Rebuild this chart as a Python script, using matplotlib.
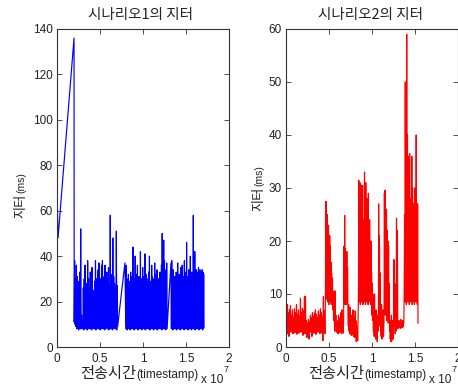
import numpy as np
import matplotlib
matplotlib.use('Agg')
import matplotlib.pyplot as plt

# ---------------- data (time in units of 1e7, jitter in ms) ----------------
titles = ['시나리오1의 지터', '시나리오2의 지터']
xticks = [0, 0.5, 1, 1.5, 2]
xtick_labels = ['0', '0.5', '1', '1.5', '2']
yticks1 = [0, 20, 40, 60, 80, 100, 120, 140]
yticks2 = [0, 10, 20, 30, 40, 50, 60]

# scenario 1 (blue)
blue_start = [25, 62]
blue_rise = [48, 136]
blue_band1 = [11,38, 10,30, 9,36, 8,31, 8.5,24, 7.5,29, 8,33, 8,52, 9,14, 8,12, 8,26, 7.5,30, 8,36,
              8.5,28, 8,24, 7.5,38, 8,30, 9,26, 8,33, 8,31, 7.5,35, 8,25, 8.5,24, 8,29, 8,38, 7.5,30,
              8,28, 9,34, 8,37, 8,26, 7.5,30, 8,36, 8.5,38, 8,27, 8,31, 7.5,36, 8,28, 9,33, 8,30,
              8,35, 7.5,27, 8,58, 8.5,30, 8,32, 7.5,48, 8,31, 9,28, 8,26, 8,51, 7.5,27, 9]
blue_link1 = [37]
blue_band2 = [8,36, 8,30, 7.5,27, 8,32, 8.5,25, 8,29, 7.5,33, 8,28, 8,31, 8.5,44, 8,30, 7.5,27, 8,40,
              8,29, 9,32, 8,36, 7.5,26, 8,31, 8,28, 8.5,42, 8,30, 7.5,27, 8,35, 8,29, 8.5,31, 8,41,
              7.5,28, 8,32, 8,26, 9,30, 8,33, 8,40, 7.5,29, 8,27, 8.5,36, 8,31, 8,25, 7.5,30, 8,37,
              8,28, 8.5,32, 8,34, 7.5,27, 8,30, 8,29, 9,33, 8,31, 8,36, 7.5,50, 8,30, 8.5,47, 8,38,
              8,32, 7.5,34, 8,37, 8]
blue_link2 = [37]
blue_band3 = [8,38, 8,30, 7.5,34, 8,27, 8.5,31, 8,25, 8,33, 7.5,29, 8,37, 8,28, 8.5,32, 8,26, 7.5,35,
              8,30, 8,36, 8.5,27, 8,31, 7.5,38, 8,29, 8,33, 8.5,46, 8,28, 7.5,31, 8,34, 8,27, 8,40,
              8.5,30, 7.5,33, 8,29, 8,58, 8.5,35, 8,42, 7.5,33, 8,34, 8,31, 8.5,33, 8,35, 7.5,32,
              8,34, 8,33, 8.5,31, 8,34, 7.5,33, 8,32, 8.5]
blue_times = [(0.004, 0.004), (0.012, 0.198), (0.2, 0.705), (0.79, 0.79), (0.80, 1.28),
              (1.325, 1.325), (1.33, 1.71)]

# scenario 2 (red)
red_seg1 = [3,7.5, 2.5,8, 4,6.5, 2,7, 3.5,7.8, 2.8,6, 3,7, 2.5,5.5, 3.2,7.2, 2.7,6.5, 3,8, 2.4,6.2,
            3.5,7, 2.6,5.8, 3,9.2, 2.8,6.5, 3.3,7.3, 2.2,6.8, 3,9.5, 2.5,9.6, 3,5, 1.8,4.5, 2.5,5.2,
            1.5,4.8, 2.8,6, 3.2,5.5, 2,6.5, 3.5,5.8, 2.6,6.4, 3,7, 2.4,6.2, 3.4,5.6, 2.8,6.8, 3,6,
            2.5,7.2, 3.3,6.5, 2.7,5.8, 1.2,9.5, 3,6.8, 2.5,8.5]
red_seg2 = [27.5, 10, 24, 9, 25, 8.5, 22, 9, 23, 8, 20, 9.5, 21, 8.5, 19, 9, 16, 8, 14]
red_seg3 = [10, 13, 7, 10.5, 5, 8, 3, 10.6, 4, 6, 2.8, 5, 3.2, 4.5, 2.5, 6, 3, 5.5, 2.7, 4, 3.5,
            6.5, 2.5, 7, 3, 4.8, 2.6]
red_seg4 = [5, 19, 8.5, 24.8, 8, 18.5, 9, 17, 8, 18, 8.5, 15, 7]
red_seg5 = [4, 8, 3, 6.5, 2.5, 7.5, 3, 5, 2.2, 6, 3.5, 4.8, 2.4, 7, 2, 5.5, 3, 4.5, 1.8, 6.8, 2.5,
            5, 1, 4, 2, 3.5, 1.2, 5]
red_seg6 = [9,31.5, 8.5,24, 9,31, 8,22, 9.5,30.5, 8.5,26, 9,30.5, 8,21, 9,24, 8.5,33, 9,25, 8,31,
            9.5,22, 8.5,28, 9,20, 8,29, 9,21, 8.5,24, 9,19, 8,20, 9,14, 6,12, 5, 10]
red_seg7 = [8, 3, 6.5, 2, 10, 2.5, 5, 1.5, 7, 2, 4.5, 1, 6, 3]
red_seg8 = [3, 27, 5, 21, 6, 19, 4, 14, 5, 10, 3]
red_seg9 = [6, 2, 8, 1.5, 5, 2.5, 7, 2, 4.5]
red_seg10 = [5, 29, 7, 29.6, 6, 21, 7, 26, 5, 22, 6, 20, 4.5, 19, 5, 12, 3]
red_seg11 = [5, 1.5, 4, 1, 6, 1.2, 3.5, 2, 5, 1.5]
red_seg12 = [3, 16.5, 4, 12, 2.5, 9, 3, 24.3, 4, 22, 3.5]
red_seg13 = [4.5, 3.6, 5, 3.8, 4.6, 3.5, 5.2, 3.7, 4.8, 3.6, 5, 3.8, 4.5]
red_seg14 = [4.5, 10, 25, 8.5, 50, 9, 41, 8, 59, 9, 40, 8.5, 36, 9, 30, 8, 36.5, 9, 28, 8.5, 25, 9,
             36, 8, 30, 8.5, 27, 9, 24, 8, 30, 9, 26, 8.5, 40, 9, 27, 8, 27, 4.5]
red_times = [(0.0, 0.458), (0.465, 0.53), (0.535, 0.665), (0.67, 0.72), (0.725, 0.838),
             (0.842, 1.01), (1.012, 1.07), (1.075, 1.10), (1.102, 1.138), (1.14, 1.205),
             (1.208, 1.248), (1.25, 1.30), (1.302, 1.368), (1.37, 1.535)]


def build(times, pieces):
    ts, vs = [], []
    for (t0, t1), vals in zip(times, pieces):
        ts.extend(np.linspace(t0, t1, len(vals)))
        vs.extend(vals)
    return np.array(ts), np.array(vs)


blue_t, blue_v = build(blue_times, [blue_start, blue_rise, blue_band1, blue_link1,
                                    blue_band2, blue_link2, blue_band3])
red_t, red_v = build(red_times, [red_seg1, red_seg2, red_seg3, red_seg4, red_seg5, red_seg6,
                                 red_seg7, red_seg8, red_seg9, red_seg10, red_seg11, red_seg12,
                                 red_seg13, red_seg14])

# ---------------- figure ----------------
W, H = 458, 385
fig = plt.figure(figsize=(W / 100, H / 100), dpi=100)
fig.patch.set_facecolor('white')
KR = ['Noto Sans CJK KR', 'DejaVu Sans']
LAT = ['Liberation Sans', 'DejaVu Sans']
TXT = '#222222'

ax1 = fig.add_axes([57 / W, 38 / H, 172 / W, 318 / H])
ax2 = fig.add_axes([286 / W, 38 / H, 172 / W, 318 / H])

ax1.plot(blue_t, blue_v, color='#0000ff', lw=0.85)
ax2.plot(red_t, red_v, color='#ff0000', lw=0.85)

for ax, yt, ymax in [(ax1, yticks1, 140), (ax2, yticks2, 60)]:
    ax.set_xlim(0, 2)
    ax.set_ylim(0, ymax)
    ax.set_xticks(xticks)
    ax.set_xticklabels(xtick_labels)
    ax.set_yticks(yt)
    ax.tick_params(direction='in', length=3.5, width=0.6, top=True, right=True,
                   labelsize=8.5, colors='#333333', labelcolor=TXT)
    ax.tick_params(axis='x', pad=4)
    ax.tick_params(axis='y', pad=3)
    for lab in ax.get_xticklabels() + ax.get_yticklabels():
        lab.set_family(LAT)
    for s in ax.spines.values():
        s.set_color('#333333')
        s.set_linewidth(0.8)

fig.canvas.draw()
r = fig.canvas.get_renderer()


def hlabel(cx, base_px, parts):
    texts = [fig.text(0, 1 - base_px / H, s, fontsize=sz, family=fam, va='baseline',
                      ha='left', color=TXT) for s, sz, fam in parts]
    widths = [t.get_window_extent(r).width for t in texts]
    x = cx - sum(widths) / 2
    for t, w in zip(texts, widths):
        t.set_x(x / W)
        x += w


def vlabel(base_x, cy, parts):
    texts = [fig.text(base_x / W, 0, s, fontsize=sz, family=fam, rotation=90,
                      rotation_mode='anchor', ha='left', va='baseline', color=TXT)
             for s, sz, fam in parts]
    heights = [t.get_window_extent(r).height for t in texts]
    y = (H - cy) - sum(heights) / 2
    for t, h in zip(texts, heights):
        t.set_y(y / H)
        y += h


for cx, title in [(141, titles[0]), (370, titles[1])]:
    fig.text(cx / W, 1 - 15 / H, title, fontsize=10.5, family=KR, ha='center', va='center',
             color=TXT)

for cx in [139, 367]:
    hlabel(cx, 378, [('전송시간', 11, KR), ('(timestamp)', 8.5, LAT)])

for x0 in [201, 429]:
    fig.text(x0 / W, 1 - 383 / H, 'x 10', fontsize=8.5, family=LAT, ha='left',
             va='baseline', color=TXT)
    fig.text((x0 + 23) / W, 1 - 372 / H, '7', fontsize=6.5, family=LAT, ha='left',
             va='baseline', color=TXT)

vlabel(24, 195, [('지터', 9.5, KR), ('(ms)', 7.5, LAT)])
vlabel(262, 188, [('지터', 9.5, KR), ('(ms)', 7.5, LAT)])

fig.savefig('out.png', dpi=100, facecolor='white')
